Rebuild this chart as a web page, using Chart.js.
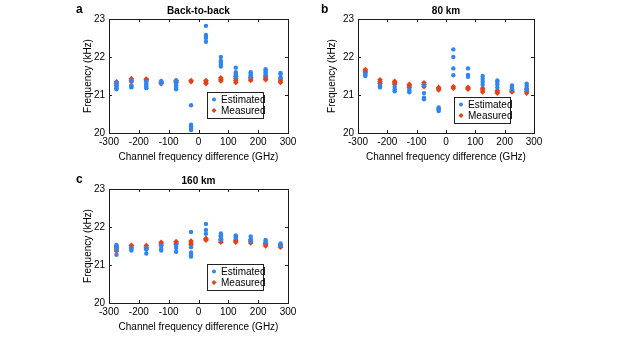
<!DOCTYPE html>
<html>
<head>
<meta charset="utf-8">
<script src="https://cdn.jsdelivr.net/npm/chart.js@4.4.1/dist/chart.umd.min.js"></script>
<style>
  html, body { margin: 0; padding: 0; background: #fff; }
  body { width: 630px; height: 341px; position: relative; overflow: hidden; }
  .panel { position: absolute; }
</style>
</head>
<body>
<div class="panel" style="left:60px;top:0px;width:250px;height:170px"><canvas id="chartA"></canvas></div>
<div class="panel" style="left:310px;top:0px;width:250px;height:170px"><canvas id="chartB"></canvas></div>
<div class="panel" style="left:60px;top:170px;width:250px;height:170px"><canvas id="chartC"></canvas></div>
<script>
// ---- data (kHz) ---------------------------------------------------------
const channelOffsets = [-275, -225, -175, -125, -75, -25, 25, 75, 125, 175, 225, 275];
const xTicks = [-300, -200, -100, 0, 100, 200, 300];
const yTicks = [20, 21, 22, 23];

// Back-to-back
const aEstimated = [
    [21.15, 21.18, 21.22, 21.28, 21.33],
    [21.2, 21.22, 21.25, 21.38],
    [21.18, 21.22, 21.26, 21.3, 21.35],
    [21.3, 21.33, 21.36],
    [21.15, 21.2, 21.25, 21.3, 21.38],
    [20.73, 20.22, 20.18, 20.13, 20.08],
    [22.82, 22.58, 22.53, 22.5, 22.4],
    [22.0, 21.9, 21.85, 21.8, 21.75],
    [21.72, 21.6, 21.56, 21.52, 21.48],
    [21.6, 21.56, 21.52, 21.48],
    [21.68, 21.64, 21.6, 21.55, 21.52],
    [21.58, 21.55, 21.47]
];
const aMeasured = [
    [21.25, 21.3, 21.35],
    [21.35, 21.39, 21.43],
    [21.37, 21.4, 21.42],
    [21.3, 21.33, 21.36],
    [21.33, 21.36, 21.38],
    [21.35, 21.38],
    [21.3, 21.34, 21.38],
    [21.37, 21.41, 21.45],
    [21.33, 21.38, 21.43, 21.48],
    [21.38, 21.42, 21.46],
    [21.4, 21.44, 21.48],
    [21.33, 21.37, 21.42]
];

// 80 km
const bEstimated = [
    [21.5, 21.53, 21.56],
    [21.2, 21.23, 21.26],
    [21.1, 21.15, 21.22],
    [21.07, 21.11, 21.16],
    [21.05, 20.93, 20.89, 21.25],
    [20.58, 20.61, 20.64, 20.67],
    [22.2, 22.0, 21.7, 21.52],
    [21.7, 21.53, 21.48],
    [21.5, 21.43, 21.35, 21.27],
    [21.38, 21.34, 21.28, 21.2],
    [21.25, 21.2, 21.14],
    [21.3, 21.24, 21.18, 21.13]
];
const bMeasured = [
    [21.6, 21.63, 21.67],
    [21.3, 21.35, 21.4],
    [21.28, 21.32, 21.36],
    [21.2, 21.24, 21.28],
    [21.22, 21.27, 21.32],
    [21.13, 21.17, 21.2],
    [21.18, 21.22],
    [21.15, 21.18, 21.2],
    [21.08, 21.13, 21.18],
    [21.05, 21.08, 21.12],
    [21.08, 21.1, 21.13],
    [21.05, 21.1, 21.15]
];

// 160 km
const cEstimated = [
    [21.53, 21.42, 21.27, 21.47],
    [21.38, 21.45, 21.42],
    [21.3, 21.4, 21.44],
    [21.5, 21.42, 21.38],
    [21.5, 21.45, 21.35],
    [21.87, 21.47, 21.33, 21.22, 21.27],
    [22.08, 21.92, 21.82],
    [21.83, 21.78, 21.75, 21.7, 21.66],
    [21.78, 21.74, 21.71],
    [21.75, 21.68, 21.63],
    [21.66, 21.63, 21.6],
    [21.57, 21.52]
];
const cMeasured = [
    [21.37, 21.42, 21.47, 21.5],
    [21.45, 21.5, 21.52],
    [21.42, 21.47, 21.51],
    [21.52, 21.56, 21.6],
    [21.55, 21.58, 21.62],
    [21.53, 21.58, 21.63],
    [21.65, 21.68, 21.7],
    [21.6, 21.63, 21.67],
    [21.6, 21.63, 21.66],
    [21.58, 21.62, 21.66],
    [21.5, 21.54, 21.57],
    [21.47, 21.5, 21.53]
];

// ---- styling ------------------------------------------------------------
const blue = '#2f86f0';
const red = '#e4411b';
const ink = '#1a1a1a';
const font = "'Liberation Sans', Arial, Helvetica, sans-serif";

const toPoints = (groups) => groups.flatMap((ys, i) => ys.map(y => ({ x: channelOffsets[i], y })));

// box + inward ticks, panel letter, panel title, legend
const framePlugin = {
    id: 'frame',
    afterDraw(chart, args, opts) {
        const { ctx, chartArea: a, scales } = chart;
        ctx.save();
        ctx.strokeStyle = ink;
        ctx.lineWidth = 1;
        ctx.strokeRect(a.left + 0.5, a.top + 0.5, a.right - a.left, a.bottom - a.top);
        ctx.beginPath();
        xTicks.forEach(v => {
            const px = Math.round(scales.x.getPixelForValue(v)) + 0.5;
            ctx.moveTo(px, a.bottom); ctx.lineTo(px, a.bottom - 3);
            ctx.moveTo(px, a.top); ctx.lineTo(px, a.top + 3);
        });
        yTicks.forEach(v => {
            const py = Math.round(scales.y.getPixelForValue(v)) + 0.5;
            ctx.moveTo(a.left, py); ctx.lineTo(a.left + 3, py);
            ctx.moveTo(a.right, py); ctx.lineTo(a.right - 3, py);
        });
        ctx.stroke();

        // letter + title
        ctx.fillStyle = '#000';
        ctx.textBaseline = 'middle';
        ctx.font = `bold 12px ${font}`;
        ctx.textAlign = 'left';
        ctx.fillText(opts.letter, opts.letterX, 10);
        ctx.font = `bold 10px ${font}`;
        ctx.textAlign = 'center';
        ctx.fillText(opts.title, (a.left + a.right) / 2, 11);

        // legend
        const lx = opts.legendX, ly = opts.legendY, lw = 56, lh = 26;
        ctx.fillStyle = '#fff';
        ctx.fillRect(lx, ly, lw, lh);
        ctx.strokeStyle = '#222';
        ctx.strokeRect(lx + 0.5, ly + 0.5, lw, lh);
        chart.data.datasets.forEach((ds, i) => {
            const cy = ly + 7.5 + i * 11;
            ctx.fillStyle = ds.backgroundColor;
            Chart.helpers.drawPoint(ctx, { pointStyle: ds.pointStyle, radius: ds.pointRadius * 0.9, borderWidth: 0 }, lx + 7, cy);
            ctx.fillStyle = '#000';
            ctx.font = `10px ${font}`;
            ctx.textAlign = 'left';
            ctx.fillText(ds.label, lx + 14, cy + 0.5);
        });
        ctx.restore();
    }
};

const makePanel = (id, estimated, measured, cfg) => {
    const el = document.getElementById(id);
    return new Chart(el, {
        type: 'scatter',
        data: {
            datasets: [
                { label: 'Estimated', data: toPoints(estimated), pointStyle: 'circle', pointRadius: 2.2,
                  backgroundColor: blue, borderWidth: 0, pointHoverRadius: 2.2 },
                { label: 'Measured', data: toPoints(measured), pointStyle: 'rectRot', pointRadius: 2.8,
                  backgroundColor: red, borderWidth: 0, pointHoverRadius: 2.8 }
            ]
        },
        options: {
            responsive: true, maintainAspectRatio: false, animation: false,
            layout: { padding: { left: cfg.padLeft, right: cfg.padRight, top: 19, bottom: 7 } },
            scales: {
                x: {
                    type: 'linear', min: -300, max: 300,
                    afterBuildTicks: (s) => { s.ticks = xTicks.map(v => ({ value: v })); },
                    afterFit: (s) => { s.height = 30; },
                    grid: { display: false, drawTicks: false, tickLength: 0 }, border: { display: false },
                    ticks: { color: '#000', font: { family: font, size: 10 }, padding: 3, maxRotation: 0 },
                    title: { display: true, text: 'Channel frequency difference (GHz)', color: '#000',
                             font: { family: font, size: 10 }, padding: 0 }
                },
                y: {
                    type: 'linear', min: 20, max: 23,
                    afterBuildTicks: (s) => { s.ticks = yTicks.map(v => ({ value: v })); },
                    afterFit: (s) => { s.width = cfg.yWidth; },
                    grid: { display: false, drawTicks: false, tickLength: 0 }, border: { display: false },
                    ticks: { color: '#000', font: { family: font, size: 10 }, padding: 4 },
                    title: { display: true, text: 'Frequency (kHz)', color: '#000',
                             font: { family: font, size: 10 }, padding: 0 }
                }
            },
            plugins: {
                legend: { display: false },
                tooltip: { enabled: false },
                frame: cfg.frame
            }
        },
        plugins: [framePlugin]
    });
};

document.addEventListener('DOMContentLoaded', () => {
    makePanel('chartA', aEstimated, aMeasured, {
        padLeft: 22, padRight: 22, yWidth: 27,
        frame: { letter: 'a', letterX: 16, title: 'Back-to-back', legendX: 147, legendY: 92 }
    });
    makePanel('chartB', bEstimated, bMeasured, {
        padLeft: 16, padRight: 26, yWidth: 32,
        frame: { letter: 'b', letterX: 11, title: '80 km', legendX: 144, legendY: 97 }
    });
    makePanel('chartC', cEstimated, cMeasured, {
        padLeft: 22, padRight: 22, yWidth: 27,
        frame: { letter: 'c', letterX: 16, title: '160 km', legendX: 147, legendY: 94 }
    });
});
</script>
</body>
</html>
